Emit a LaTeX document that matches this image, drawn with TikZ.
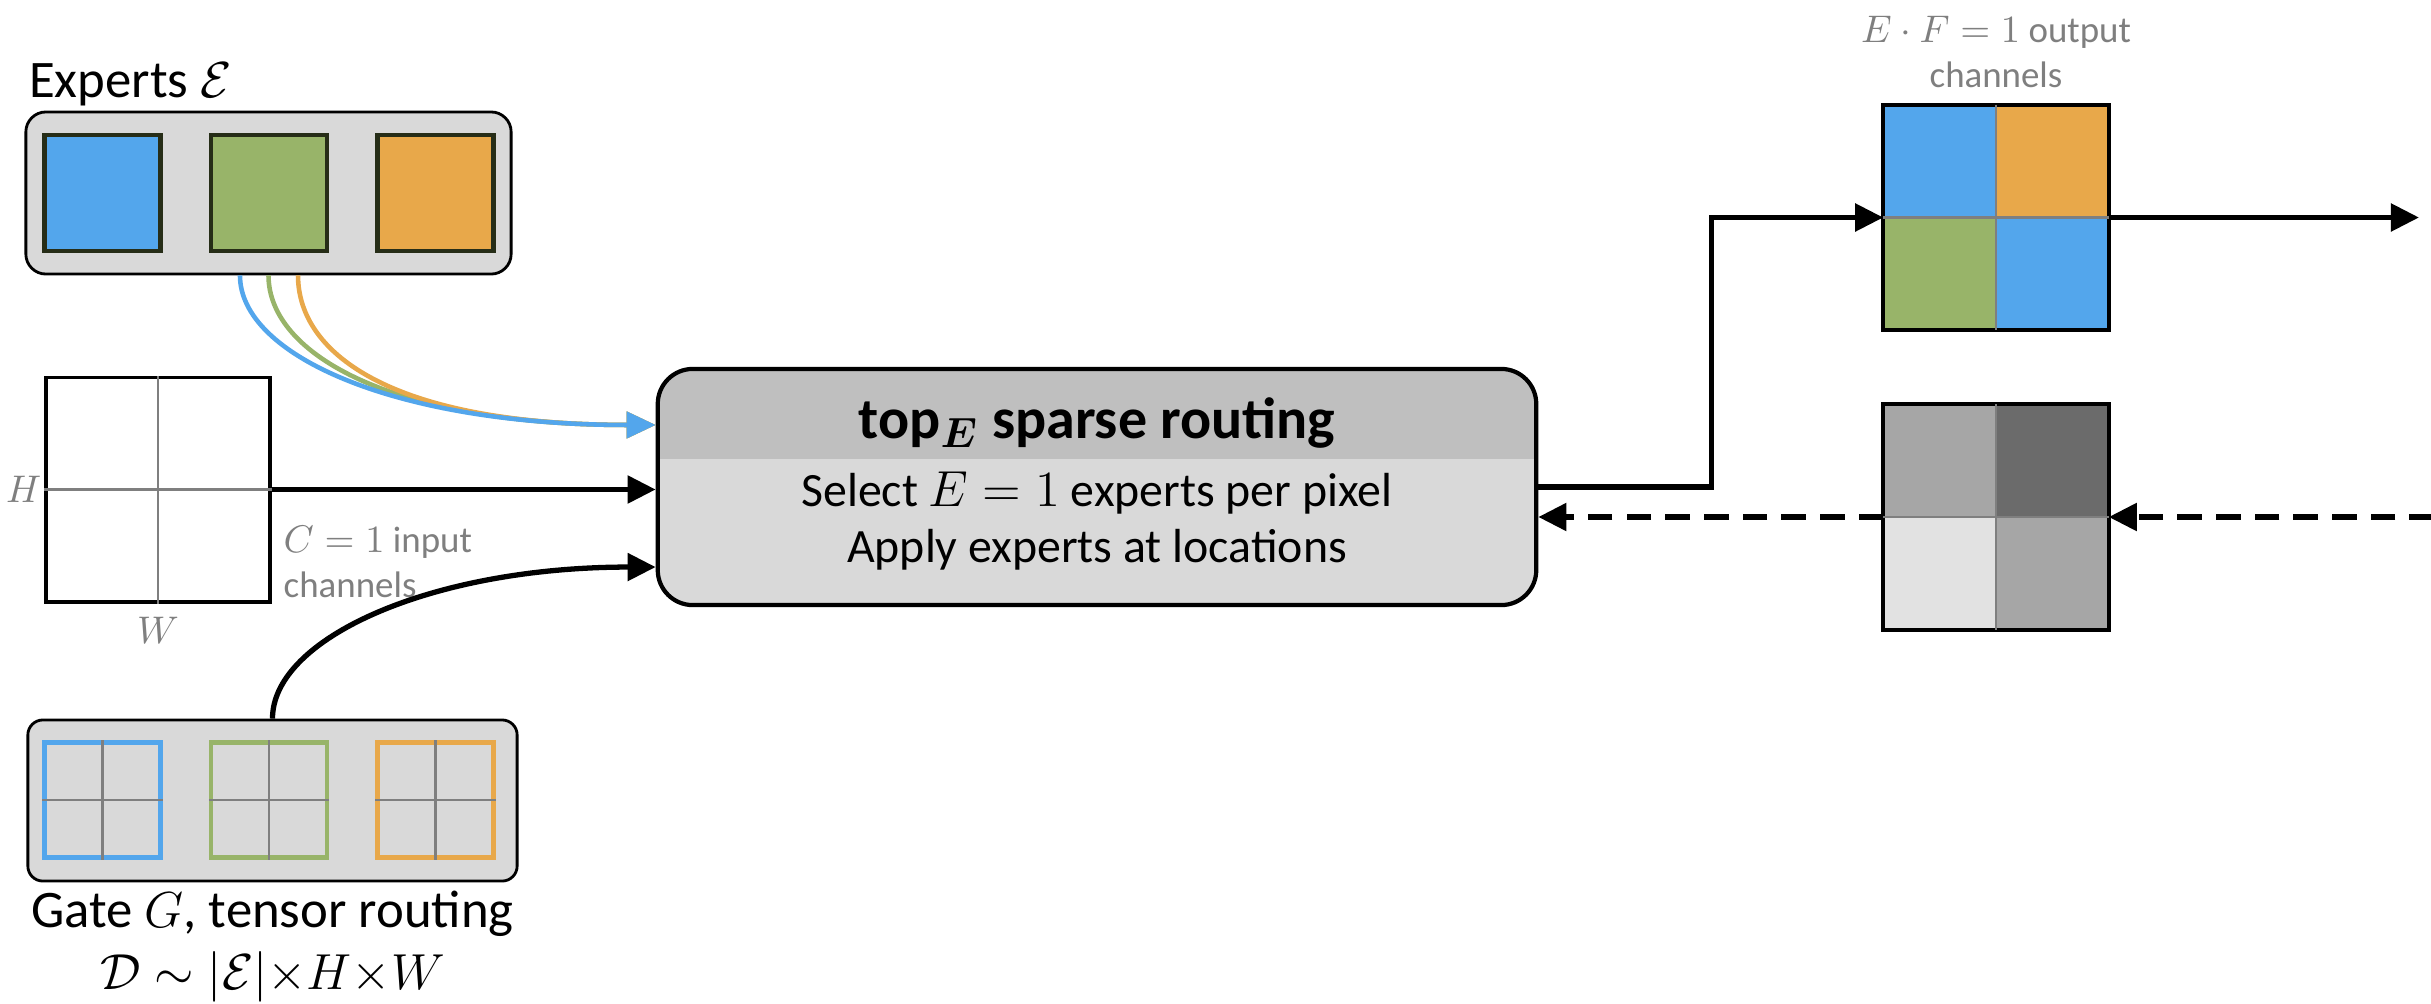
\documentclass[tikz,border=0pt]{standalone}
\usepackage{fontspec}
\setmainfont{Carlito}
\usetikzlibrary{arrows.meta, calc, positioning}
\definecolor{eblue}{HTML}{53A6EC}
\definecolor{egreen}{HTML}{98B469}
\definecolor{eorange}{HTML}{E8A84A}
\definecolor{boxgray}{HTML}{D9D9D9}
\definecolor{headgray}{HTML}{BFBFBF}
\definecolor{lgray}{HTML}{7F7F7F}
\definecolor{sqedge}{HTML}{262D17}
\definecolor{gmid}{HTML}{A6A6A6}
\definecolor{gdark}{HTML}{6B6B6B}
\definecolor{glight}{HTML}{E2E2E2}
\tikzset{
  cont/.style={draw, line width=0.8pt, fill=boxgray, rounded corners=0.2cm, inner sep=0pt},
  expsq/.style={draw=sqedge, line width=1.2pt, minimum width=1.16cm, minimum height=1.16cm, inner sep=0pt},
  gatesq/.style={line width=1.2pt, minimum width=1.16cm, minimum height=1.15cm, inner sep=0pt},
  sq/.style={minimum width=2.24cm, minimum height=2.24cm, inner sep=0pt},
  frame/.style={line width=1.1pt},
  gl/.style={lgray, line width=0.7pt},
  arr/.style={-{Triangle[length=2.8mm,width=2.7mm]}, line width=1.5pt},
  ccurve/.style={-{Triangle[length=2.9mm,width=2.6mm]}, line width=1.3pt},
  dsh/.style={dash pattern=on 7pt off 4pt},
  lbl/.style={font=\fontsize{15}{16.5}\selectfont, inner sep=0pt},
  note/.style={font=\fontsize{10.5}{12.8}\selectfont, text=lgray, inner sep=0pt},
  body/.style={font=\fontsize{13.6}{15}\selectfont, inner sep=0pt},
  mainbox/.style={draw, line width=1.2pt, fill=boxgray, rounded corners=0.35cm,
    minimum width=8.78cm, minimum height=2.36cm, inner sep=0pt,
    path picture={\fill[headgray, sharp corners] (path picture bounding box.north west) rectangle ([yshift=-0.9cm]path picture bounding box.north east);}}
}
\begin{document}
\begin{tikzpicture}[x=0.01cm, y=-0.01cm]
  \useasboundingbox (0,0) rectangle (2431,1003);
  \node[cont, minimum width=4.85cm, minimum height=1.62cm] (experts) at (268.5,193) {};
  \node[cont, minimum width=4.89cm, minimum height=1.61cm, rounded corners=0.15cm] (gate) at (272.5,800.5) {};
  \foreach \i/\c/\x in {1/eblue/102.5,2/egreen/269,3/eorange/435.5}{
    \node[expsq, fill=\c] (e\i) at (\x,193) {};
    \node[gatesq, draw=\c] (g\i) at (\x,800) {};
    \draw[gl] (g\i.north) -- (g\i.south) (g\i.west) -- (g\i.east);}
  \node[lbl, anchor=base west] (explbl) at ([xshift=0.04cm,yshift=0.13cm]experts.north west) {Experts $\mathcal{E}$};
  \node[lbl, anchor=base] (gatelbl) at ([yshift=-0.45cm]gate.south) {Gate $G$, tensor routing};
  \node[lbl, anchor=base] (gatedim) at ([yshift=-1.07cm]gate.south) {$\mathcal{D}\sim|\mathcal{E}|{\times}H{\times}W$};

  \node[sq, draw, frame, fill=white] (inp) at (158,489.5) {};
  \draw[gl] (inp.north) -- (inp.south) (inp.west) -- (inp.east);
  \node[note, anchor=east] (hlbl) at ([xshift=-0.02cm]inp.west) {$H$};
  \node[note, anchor=north] (wlbl) at ([yshift=-0.13cm]inp.south) {$W$};
  \node[note, anchor=west, align=left] (cin) at ([xshift=0.11cm,yshift=-0.72cm]inp.east) {$C=1$ input\\channels};

  \node[mainbox] (route) at (1097,487) {};
  \node[font=\fontsize{16.5}{20}\selectfont\bfseries, inner sep=0pt] (ttl) at ([yshift=0.64cm]route.center) {top{\boldmath$_{E}$} sparse routing};
  \node[body] (sel) at ([yshift=-0.06cm]route.center) {Select $E=1$ experts per pixel};
  \node[body] (app) at ([yshift=-0.63cm]route.center) {Apply experts at locations};

  \node[sq] (outc) at (1996,217.5) {};
  \foreach \a/\b/\c in {north west/center/eblue, north/east/eorange, west/south/egreen, center/south east/eblue}{\fill[\c] (outc.\a) rectangle (outc.\b);}
  \draw[frame] (outc.north west) rectangle (outc.south east);
  \draw[gl] (outc.north) -- (outc.south) (outc.west) -- (outc.east);
  \node[note, align=center] (outlbl) at ([yshift=0.53cm]outc.north) {$E\cdot F=1$ output\\channels};

  \node[sq] (gatg) at (1996,517) {};
  \foreach \a/\b/\c in {north west/center/gmid, north/east/gdark, west/south/glight, center/south east/gmid}{\fill[\c] (gatg.\a) rectangle (gatg.\b);}
  \draw[frame] (gatg.north west) rectangle (gatg.south east);
  \draw[gl] (gatg.north) -- (gatg.south) (gatg.west) -- (gatg.east);

  \foreach \dx/\c in {0/egreen, 0.295/eorange, -0.285/eblue}{
    \draw[ccurve, \c] ([xshift=\dx cm]experts.south) .. controls +(0,80) and +(-260,0) .. ([yshift=0.62cm]route.west);}
  \draw[arr] (inp.east) -- (inp.east -| route.west);
  \draw[arr] (gate.north) .. controls +(0,-80) and +(-225,0) .. ([yshift=-0.8cm]route.west);
  \draw[arr] (route.east) -- ++(173,0) |- (outc.west);
  \coordinate (outend) at ([xshift=3.1cm]outc.east);
  \draw[arr] (outc.east) -- (outend);
  \coordinate (gradin) at ([xshift=3.25cm]gatg.east);
  \draw[arr, dsh] (gradin) -- (gatg.east);
  \draw[arr, dsh] (gatg.west) -- (gatg.west -| route.east);
\end{tikzpicture}
\end{document}
